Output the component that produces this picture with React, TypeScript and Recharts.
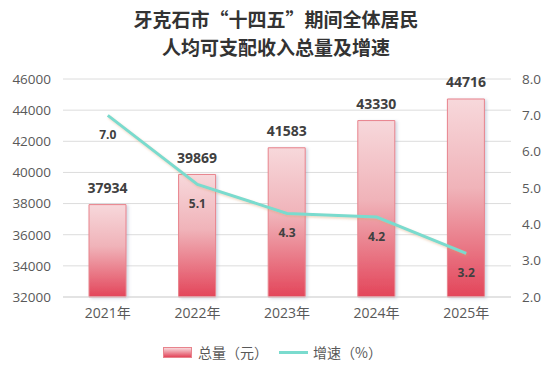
import React from "react";
import { ComposedChart, Bar, Line, XAxis, YAxis, CartesianGrid, LabelList } from "recharts";

const years = ["2021年", "2022年", "2023年", "2024年", "2025年"];
const totals = [37934, 39869, 41583, 43330, 44716];
const growth = [7.0, 5.1, 4.3, 4.2, 3.2];
const leftTicks = [32000, 34000, 36000, 38000, 40000, 42000, 44000, 46000];
const rightTicks = [2, 3, 4, 5, 6, 7, 8];
const titleLines = ["牙克石市“十四五”期间全体居民", "人均可支配收入总量及增速"];

const data = years.map((y, i) => ({ year: y, total: totals[i], growth: growth[i] }));

const FONT = "'Open Sans', 'Noto Sans CJK SC', sans-serif";
const CJK = "'Noto Sans CJK SC', sans-serif";

const GrowthLabel = (props: any) => {
  const { x, y, value } = props;
  return (
    <text x={x} y={y + 19} textAnchor="middle" dominantBaseline="central" fontSize={12} fontWeight={700} fill="#404040" fontFamily={FONT}>
      {Number(value).toFixed(1)}
    </text>
  );
};

const TotalLabel = (props: any) => {
  const { x, y, width, value } = props;
  return (
    <text x={x + width / 2} y={y - 17} textAnchor="middle" dominantBaseline="central" fontSize={14} fontWeight={700} fill="#404040" fontFamily={FONT}>
      {value}
    </text>
  );
};

export default function App() {
  return (
    <div style={{ position: "absolute", left: 0, top: 0, width: 552, height: 375, background: "#fff" }}>
      {titleLines.map((t, i) => (
        <div key={i} style={{ position: "absolute", left: 0, top: 5 + i * 28, width: 552, height: 28, textAlign: "center", fontFamily: CJK, fontWeight: 700, fontSize: 19, lineHeight: "28px", color: "#333" }}>
          {t}
        </div>
      ))}
      <ComposedChart width={552} height={375} data={data} margin={{ top: 79, right: 0, bottom: 48, left: 0 }}>
        <defs>
          <linearGradient id="barGrad" x1="0" y1="0" x2="0" y2="1">
            <stop offset="0%" stopColor="#f7d8db" />
            <stop offset="45%" stopColor="#f0b3b9" />
            <stop offset="100%" stopColor="#e3455a" />
          </linearGradient>
          <filter id="barShadow" x="-20%" y="-5%" width="150%" height="115%">
            <feDropShadow dx="2" dy="1" stdDeviation="1.5" floodColor="#8090b0" floodOpacity="0.35" />
          </filter>
          <filter id="lineShadow" x="-10%" y="-20%" width="120%" height="150%">
            <feDropShadow dx="1" dy="1.5" stdDeviation="1.2" floodColor="#d9a070" floodOpacity="0.45" />
          </filter>
        </defs>
        <CartesianGrid yAxisId="left" vertical={false} stroke="#dcdcdc" />
        <XAxis dataKey="year" tickLine={false} axisLine={{ stroke: "#d9d9d9" }} tickSize={0} tickMargin={11} height={30}
          tick={{ fontSize: 14, fill: "#595959", fontFamily: FONT }} interval={0} />
        <YAxis yAxisId="left" domain={[32000, 46000]} ticks={leftTicks} axisLine={false} tickLine={false} tickSize={0} tickMargin={12} width={63}
          tick={{ fontSize: 13.5, fill: "#595959", fontFamily: FONT }} interval={0} />
        <YAxis yAxisId="right" orientation="right" domain={[2, 8]} ticks={rightTicks} axisLine={false} tickLine={false} tickSize={0} tickMargin={11} width={41}
          tick={{ fontSize: 13.5, fill: "#595959", fontFamily: FONT }} tickFormatter={(v: number) => v.toFixed(1)} interval={0} />
        <Bar yAxisId="left" dataKey="total" barSize={37} fill="url(#barGrad)" stroke="#e8838c" strokeWidth={1} isAnimationActive={false} filter="url(#barShadow)">
          <LabelList dataKey="total" content={TotalLabel} />
        </Bar>
        <Line yAxisId="right" dataKey="growth" stroke="#7adbce" strokeWidth={3} dot={false} activeDot={false} isAnimationActive={false} filter="url(#lineShadow)">
          <LabelList dataKey="growth" content={GrowthLabel} />
        </Line>
      </ComposedChart>
      <div style={{ position: "absolute", left: 163, top: 343, height: 18, display: "flex", alignItems: "center", fontFamily: CJK, fontSize: 14, color: "#595959", whiteSpace: "nowrap" }}>
        <span style={{ display: "inline-block", width: 27, height: 9, border: "1px solid #e8838c", background: "linear-gradient(#f7d8db, #e3455a)" }} />
        <span style={{ marginLeft: 6 }}>总量（元）</span>
        <span style={{ display: "inline-block", width: 29, height: 3, background: "#7adbce", marginLeft: 11 }} />
        <span style={{ marginLeft: 5 }}>增速（%）</span>
      </div>
    </div>
  );
}
